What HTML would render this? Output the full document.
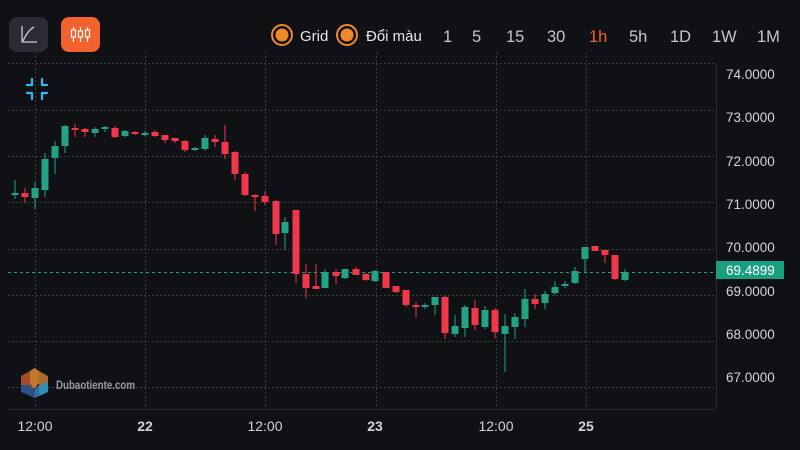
<!DOCTYPE html>
<html><head><meta charset="utf-8"><style>
html,body{margin:0;padding:0;background:#101114;}
body{width:800px;height:450px;overflow:hidden;font-family:"Liberation Sans","DejaVu Sans",sans-serif;}
svg{display:block}
</style></head><body>
<svg width="800" height="450" viewBox="0 0 800 450" xmlns="http://www.w3.org/2000/svg" font-family="Liberation Sans, DejaVu Sans, sans-serif">
<rect width="800" height="450" fill="#101114"/>
<!-- grid -->
<g stroke="#3a3c42" stroke-width="1" stroke-dasharray="2,2">
<line x1="8" y1="63.5" x2="716" y2="63.5"/>
<line x1="8" y1="110.5" x2="716" y2="110.5"/>
<line x1="8" y1="156.5" x2="716" y2="156.5"/>
<line x1="8" y1="202.5" x2="716" y2="202.5"/>
<line x1="8" y1="249.5" x2="716" y2="249.5"/>
<line x1="8" y1="295.5" x2="716" y2="295.5"/>
<line x1="8" y1="341.5" x2="716" y2="341.5"/>
<line x1="8" y1="387.5" x2="716" y2="387.5"/>
<line x1="35.5" y1="52" x2="35.5" y2="408"/>
<line x1="145.5" y1="52" x2="145.5" y2="408"/>
<line x1="265.5" y1="52" x2="265.5" y2="408"/>
<line x1="376.5" y1="52" x2="376.5" y2="408"/>
<line x1="496.5" y1="52" x2="496.5" y2="408"/>
<line x1="586.5" y1="52" x2="586.5" y2="408"/>
</g>
<line x1="8" y1="409.5" x2="716" y2="409.5" stroke="#2a2c31" stroke-width="1"/>
<line x1="716.5" y1="63" x2="716.5" y2="409" stroke="#2a2c31" stroke-width="1"/>
<!-- price line -->
<line x1="8" y1="272.5" x2="716" y2="272.5" stroke="#1fa083" stroke-width="1" stroke-dasharray="3,3"/>

<!-- candles -->
<g>
<g fill="#22a386">
<rect x="14.5" y="180" width="1" height="19"/><rect x="11.5" y="193" width="7" height="2"/>
<rect x="34.5" y="182" width="1" height="27"/><rect x="31.5" y="188" width="7" height="10"/>
<rect x="44.5" y="153" width="1" height="44"/><rect x="41.5" y="159" width="7" height="31"/>
<rect x="54.5" y="141" width="1" height="33"/><rect x="51.5" y="146" width="7" height="12"/>
<rect x="64.5" y="125" width="1" height="28"/><rect x="61.5" y="126" width="7" height="20"/>
<rect x="94.5" y="127" width="1" height="10"/><rect x="91.5" y="129" width="7" height="4"/>
<rect x="104.5" y="126" width="1" height="6"/><rect x="101.5" y="127" width="7" height="2"/>
<rect x="124.5" y="130" width="1" height="7"/><rect x="121.5" y="131" width="7" height="5"/>
<rect x="144.5" y="131" width="1" height="5"/><rect x="141.5" y="133" width="7" height="2"/>
<rect x="194.5" y="147" width="1" height="4"/><rect x="191.5" y="148" width="7" height="2"/>
<rect x="204.5" y="135" width="1" height="16"/><rect x="201.5" y="138" width="7" height="11"/>
<rect x="284.5" y="217" width="1" height="33"/><rect x="281.5" y="222" width="7" height="11"/>
<rect x="324.5" y="269" width="1" height="19"/><rect x="321.5" y="272" width="7" height="16"/>
<rect x="344.5" y="269" width="1" height="10"/><rect x="341.5" y="269" width="7" height="9"/>
<rect x="374.5" y="270" width="1" height="12"/><rect x="371.5" y="271" width="7" height="10"/>
<rect x="424.5" y="303" width="1" height="6"/><rect x="421.5" y="305" width="7" height="2"/>
<rect x="434.5" y="297" width="1" height="18"/><rect x="431.5" y="297" width="7" height="8"/>
<rect x="454.5" y="315" width="1" height="22"/><rect x="451.5" y="326" width="7" height="8"/>
<rect x="464.5" y="305" width="1" height="32"/><rect x="461.5" y="307" width="7" height="21"/>
<rect x="484.5" y="306" width="1" height="23"/><rect x="481.5" y="310" width="7" height="17"/>
<rect x="504.5" y="314" width="1" height="58"/><rect x="501.5" y="326" width="7" height="8"/>
<rect x="514.5" y="313" width="1" height="26"/><rect x="511.5" y="317" width="7" height="10"/>
<rect x="524.5" y="289" width="1" height="38"/><rect x="521.5" y="299" width="7" height="20"/>
<rect x="544.5" y="291" width="1" height="18"/><rect x="541.5" y="294" width="7" height="9"/>
<rect x="554.5" y="281" width="1" height="14"/><rect x="551.5" y="287" width="7" height="6"/>
<rect x="564.5" y="281" width="1" height="7"/><rect x="561.5" y="284" width="7" height="2"/>
<rect x="574.5" y="267" width="1" height="17"/><rect x="571.5" y="271" width="7" height="12"/>
<rect x="584.5" y="247" width="1" height="26"/><rect x="581.5" y="247" width="7" height="12"/>
<rect x="624.5" y="269" width="1" height="12"/><rect x="621.5" y="272" width="7" height="8"/>
</g>
<g fill="#f0384a">
<rect x="24.5" y="188" width="1" height="14"/><rect x="21.5" y="193" width="7" height="4"/>
<rect x="74.5" y="124" width="1" height="13"/><rect x="71.5" y="128" width="7" height="2"/>
<rect x="84.5" y="128" width="1" height="9"/><rect x="81.5" y="129" width="7" height="3"/>
<rect x="114.5" y="126" width="1" height="12"/><rect x="111.5" y="128" width="7" height="9"/>
<rect x="134.5" y="131" width="1" height="4"/><rect x="131.5" y="132" width="7" height="2"/>
<rect x="154.5" y="130" width="1" height="7"/><rect x="151.5" y="132" width="7" height="4"/>
<rect x="164.5" y="135" width="1" height="8"/><rect x="161.5" y="135" width="7" height="5"/>
<rect x="174.5" y="138" width="1" height="5"/><rect x="171.5" y="138" width="7" height="3"/>
<rect x="184.5" y="140" width="1" height="12"/><rect x="181.5" y="141" width="7" height="9"/>
<rect x="214.5" y="135" width="1" height="12"/><rect x="211.5" y="139" width="7" height="3"/>
<rect x="224.5" y="125" width="1" height="34"/><rect x="221.5" y="142" width="7" height="12"/>
<rect x="234.5" y="151" width="1" height="29"/><rect x="231.5" y="152" width="7" height="22"/>
<rect x="244.5" y="172" width="1" height="24"/><rect x="241.5" y="174" width="7" height="21"/>
<rect x="254.5" y="194" width="1" height="17"/><rect x="251.5" y="195" width="7" height="2"/>
<rect x="264.5" y="191" width="1" height="14"/><rect x="261.5" y="196" width="7" height="6"/>
<rect x="275.5" y="200" width="1" height="45"/><rect x="272.5" y="201" width="7" height="33"/>
<rect x="295.5" y="210" width="1" height="73"/><rect x="292.5" y="210" width="7" height="64"/>
<rect x="305.5" y="264" width="1" height="34"/><rect x="302.5" y="274" width="7" height="14"/>
<rect x="315.5" y="264" width="1" height="25"/><rect x="312.5" y="286" width="7" height="3"/>
<rect x="335.5" y="269" width="1" height="15"/><rect x="332.5" y="272" width="7" height="4"/>
<rect x="355.5" y="267" width="1" height="8"/><rect x="352.5" y="269" width="7" height="6"/>
<rect x="365.5" y="273" width="1" height="8"/><rect x="362.5" y="274" width="7" height="6"/>
<rect x="385.5" y="272" width="1" height="16"/><rect x="382.5" y="272" width="7" height="16"/>
<rect x="395.5" y="286" width="1" height="7"/><rect x="392.5" y="286" width="7" height="6"/>
<rect x="405.5" y="290" width="1" height="17"/><rect x="402.5" y="290" width="7" height="15"/>
<rect x="415.5" y="302" width="1" height="15"/><rect x="412.5" y="305" width="7" height="2"/>
<rect x="444.5" y="296" width="1" height="43"/><rect x="441.5" y="297" width="7" height="36"/>
<rect x="474.5" y="300" width="1" height="30"/><rect x="471.5" y="308" width="7" height="17"/>
<rect x="494.5" y="308" width="1" height="30"/><rect x="491.5" y="310" width="7" height="22"/>
<rect x="534.5" y="294" width="1" height="15"/><rect x="531.5" y="299" width="7" height="5"/>
<rect x="594.5" y="246" width="1" height="5"/><rect x="591.5" y="246" width="7" height="5"/>
<rect x="604.5" y="250" width="1" height="13"/><rect x="601.5" y="250" width="7" height="5"/>
<rect x="614.5" y="255" width="1" height="25"/><rect x="611.5" y="255" width="7" height="24"/>
</g>
</g>

<!-- y axis labels -->
<g fill="#d1d4dc" font-size="13.5">
<text x="726" y="79">74.0000</text>
<text x="726" y="122">73.0000</text>
<text x="726" y="166">72.0000</text>
<text x="726" y="209">71.0000</text>
<text x="726" y="252">70.0000</text>
<text x="726" y="296">69.0000</text>
<text x="726" y="339">68.0000</text>
<text x="726" y="382">67.0000</text>
</g>
<rect x="716" y="261" width="68" height="18" fill="#1a9e80"/>
<text x="726" y="275" fill="#ffffff" font-size="13.5">69.4899</text>

<!-- x axis labels -->
<g fill="#d1d4dc" font-size="14" text-anchor="middle">
<text x="35" y="431">12:00</text>
<text x="145" y="431" font-weight="bold">22</text>
<text x="265" y="431">12:00</text>
<text x="375" y="431" font-weight="bold">23</text>
<text x="496" y="431">12:00</text>
<text x="586" y="431" font-weight="bold">25</text>
</g>

<!-- watermark -->
<g opacity="0.85">
<polygon points="21,376 30,371 30,383 34,388 30,391 21,385" fill="#c0552e"/>
<polygon points="30,371 34.5,368 39,371 39,383 34.5,389 30,383" fill="#e08a30"/>
<polygon points="39,371 48,376 48,382 39,386 39,383" fill="#c97a35"/>
<polygon points="21,385 30,385 34.5,390 34.5,398 21,392" fill="#2e5c9c"/>
<polygon points="34.5,390 39,385 39,396 34.5,398" fill="#3b78ba"/>
<polygon points="39,386 48,382 48,392 39,396" fill="#3aa3d6"/>
</g>
<text x="56" y="389" fill="#9a9ca3" font-size="11.5" font-weight="bold" textLength="79" lengthAdjust="spacingAndGlyphs">Dubaotiente.com</text>

<!-- collapse icon -->
<g stroke="#3cb4e6" stroke-width="2.3" fill="none" stroke-linecap="round" stroke-linejoin="round">
<polyline points="27,85 32,85 32,79"/>
<polyline points="42,79 42,85 47,85"/>
<polyline points="27,93 32,93 32,99"/>
<polyline points="47,93 42,93 42,99"/>
</g>

<!-- buttons -->
<rect x="9" y="17" width="39" height="35" rx="8" fill="#2a2b33"/>
<g stroke="#c9cbd1" stroke-width="1.3" fill="none">
<polyline points="22,26 22,42 37,42"/>
<path d="M23,41 Q28,30 34,27"/>
</g>
<rect x="61" y="17" width="39" height="35" rx="8" fill="#f2622e"/>
<g stroke="#ffffff" stroke-width="1.2" fill="#f2622e">
<line x1="73.5" y1="27" x2="73.5" y2="42"/>
<line x1="80.5" y1="27" x2="80.5" y2="42"/>
<line x1="87.5" y1="27" x2="87.5" y2="42"/>
<rect x="71.5" y="30" width="4" height="7"/>
<rect x="78.5" y="31" width="4" height="6"/>
<rect x="85.5" y="30" width="4" height="7"/>
</g>

<!-- radios -->
<circle cx="282" cy="35" r="10" fill="none" stroke="#f0892a" stroke-width="2"/>
<circle cx="282" cy="35" r="6.5" fill="#f0892a"/>
<text x="300" y="41" fill="#e6e7ea" font-size="15">Grid</text>
<circle cx="347" cy="35" r="10" fill="none" stroke="#f0892a" stroke-width="2"/>
<circle cx="347" cy="35" r="6.5" fill="#f0892a"/>
<text x="366" y="41" fill="#e6e7ea" font-size="15">Đổi màu</text>

<!-- timeframes -->
<g fill="#c4c6cc" font-size="16.5">
<text x="443" y="42">1</text>
<text x="472" y="42">5</text>
<text x="506" y="42">15</text>
<text x="547" y="42">30</text>
<text x="589" y="42" fill="#f0622e">1h</text>
<text x="629" y="42">5h</text>
<text x="670" y="42">1D</text>
<text x="712" y="42">1W</text>
<text x="757" y="42">1M</text>
</g>
</svg>
</body></html>
